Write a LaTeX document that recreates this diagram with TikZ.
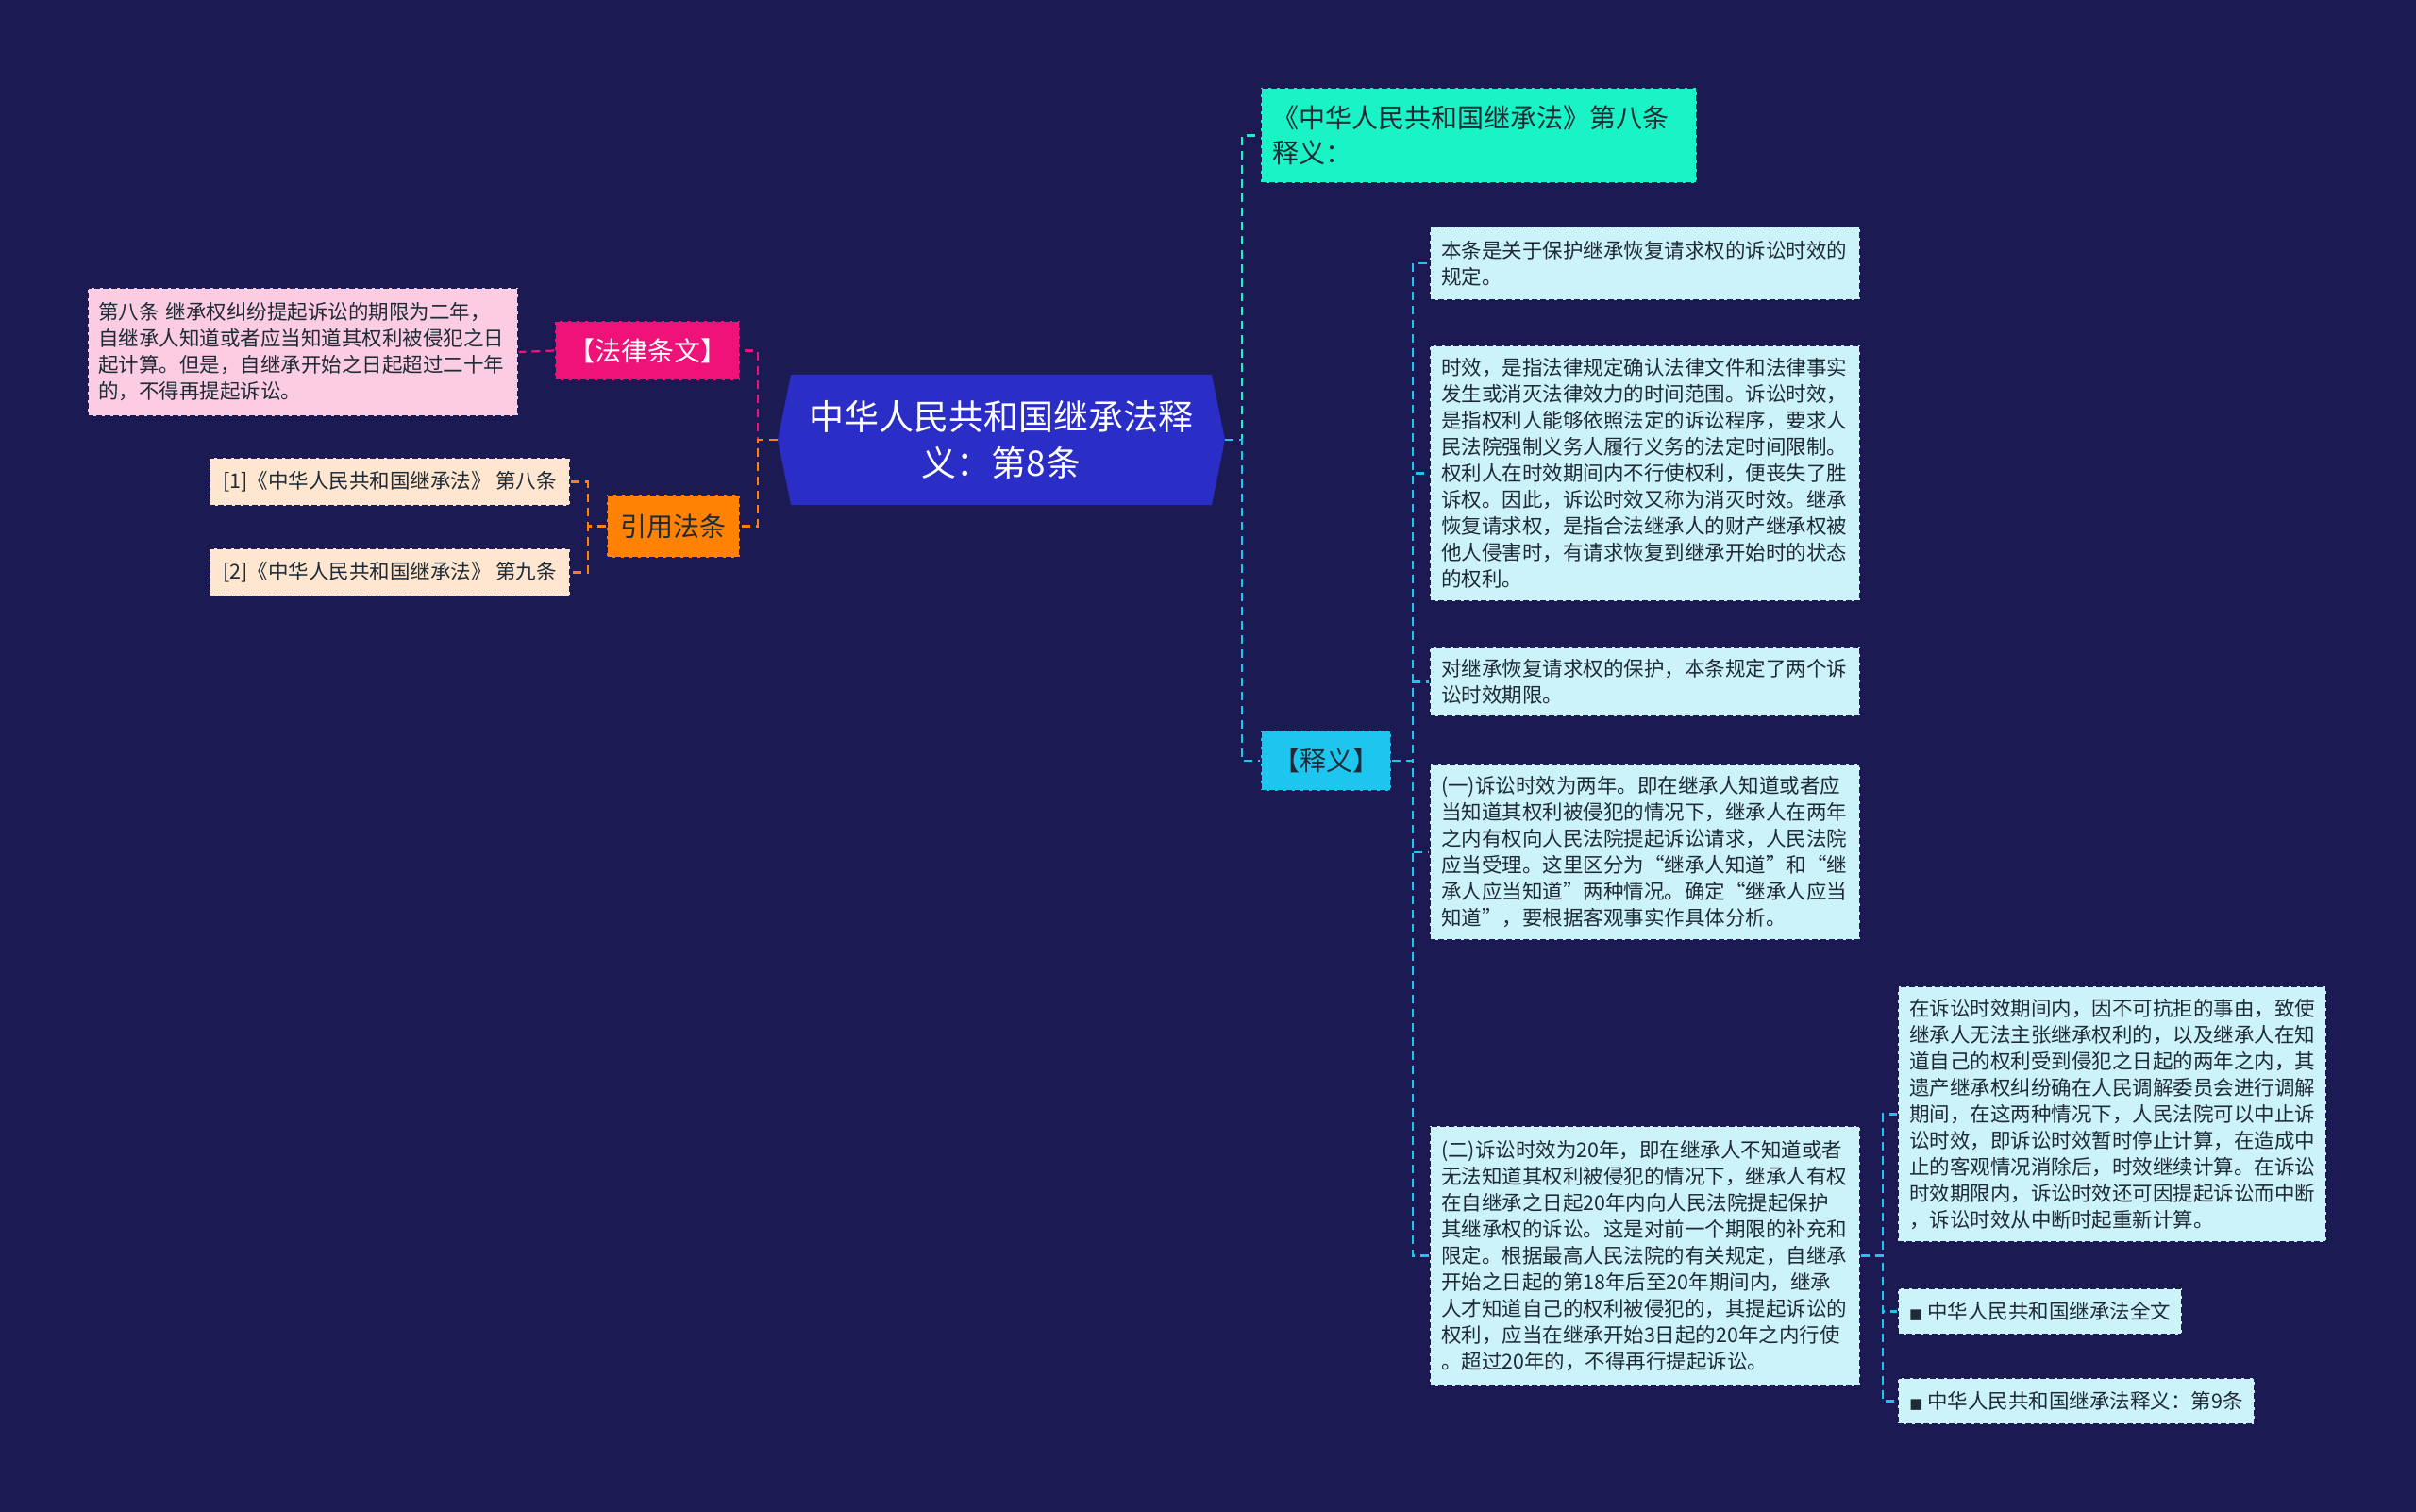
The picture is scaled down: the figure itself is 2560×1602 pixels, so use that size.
\documentclass[tikz,border=0pt]{standalone}
\usepackage{fontspec}
\setmainfont{Noto Sans CJK SC}
\newfontfamily\symfont{DejaVu Sans}
\usetikzlibrary{shapes.symbols}
\definecolor{bgc}{HTML}{1B1A52}
\definecolor{rootc}{HTML}{2A2DC6}
\definecolor{aquac}{HTML}{1AF3C5}
\definecolor{cyanc}{HTML}{1CC6EE}
\definecolor{notec}{HTML}{CDF3FA}
\definecolor{magc}{HTML}{EE1279}
\definecolor{pinkc}{HTML}{FCCCE2}
\definecolor{orangec}{HTML}{FF8205}
\definecolor{beigec}{HTML}{FEE6D0}
\definecolor{inkc}{HTML}{1E2B36}
\newcommand{\rootfont}{\fontsize{37}{49}\selectfont}
\newcommand{\midfont}{\fontsize{28}{37}\selectfont}
\newcommand{\leaffont}{\fontsize{21.5}{28}\selectfont}
\newcommand{\sqmark}{{\symfont\fontsize{15}{15}\selectfont ■}}

\begin{document}
\begin{tikzpicture}[x=1pt, y=-1pt,
    box/.style={draw=bgc, line width=1.5pt, dash pattern=on 6pt off 3pt, inner sep=0pt, text=inkc},
    note/.style={box, fill=notec, font=\leaffont, align=left, text width=432pt, inner xsep=12pt},
    tag/.style={box, fill=notec, font=\leaffont, minimum height=49pt, align=center},
    link/.style={line width=2.2pt, dash pattern=on 9pt off 6pt}]
    \fill[bgc] (0, 0) rectangle (2560, 1602);

    % Root
    \node (root) at (1061, 466) [signal, signal to=east and west, signal pointer angle=157, fill=rootc, minimum width=474pt, minimum height=138pt, inner sep=0pt, text=white, font=\rootfont, align=center] {中华人民共和国继承法释\\义：第8条};

    % Right side
    \node (sec8) at (1567, 143.5) [box, fill=aquac, font=\midfont, align=left, text width=438pt, inner xsep=12pt, minimum height=101pt] {《中华人民共和国继承法》第八条\\释义：};
    \node (shiyi) at (1405, 806) [box, fill=cyanc, font=\midfont, minimum width=138pt, minimum height=64pt, align=center] {【释义】};

    \node (n1) at (1743, 279) [note, minimum height=78pt] {本条是关于保护继承恢复请求权的诉讼时效的\\规定。};
    \node (n2) at (1743, 501.5) [note, minimum height=271pt] {时效，是指法律规定确认法律文件和法律事实\\发生或消灭法律效力的时间范围。诉讼时效，\\是指权利人能够依照法定的诉讼程序，要求人\\民法院强制义务人履行义务的法定时间限制。\\权利人在时效期间内不行使权利，便丧失了胜\\诉权。因此，诉讼时效又称为消灭时效。继承\\恢复请求权，是指合法继承人的财产继承权被\\他人侵害时，有请求恢复到继承开始时的状态\\的权利。};
    \node (n3) at (1743, 722.5) [note, minimum height=73pt] {对继承恢复请求权的保护，本条规定了两个诉\\讼时效期限。};
    \node (n4) at (1743, 903) [note, minimum height=186pt] {(一)诉讼时效为两年。即在继承人知道或者应\\当知道其权利被侵犯的情况下，继承人在两年\\之内有权向人民法院提起诉讼请求，人民法院\\应当受理。这里区分为“继承人知道”和“继\\承人应当知道”两种情况。确定“继承人应当\\知道”，要根据客观事实作具体分析。};
    \node (n5) at (1743, 1330.5) [note, minimum height=275pt] {(二)诉讼时效为20年，即在继承人不知道或者\\无法知道其权利被侵犯的情况下，继承人有权\\在自继承之日起20年内向人民法院提起保护\\其继承权的诉讼。这是对前一个期限的补充和\\限定。根据最高人民法院的有关规定，自继承\\开始之日起的第18年后至20年期间内，继承\\人才知道自己的权利被侵犯的，其提起诉讼的\\权利，应当在继承开始3日起的20年之内行使\\。超过20年的，不得再行提起诉讼。};

    \node (n6) at (2238, 1180.5) [note, text width=430pt, minimum height=271pt] {在诉讼时效期间内，因不可抗拒的事由，致使\\继承人无法主张继承权利的，以及继承人在知\\道自己的权利受到侵犯之日起的两年之内，其\\遗产继承权纠纷确在人民调解委员会进行调解\\期间，在这两种情况下，人民法院可以中止诉\\讼时效，即诉讼时效暂时停止计算，在造成中\\止的客观情况消除后，时效继续计算。在诉讼\\时效期限内，诉讼时效还可因提起诉讼而中断\\，诉讼时效从中断时起重新计算。};
    \node (n7) at (2161.5, 1389.5) [tag, minimum width=301pt] {\sqmark\ 中华人民共和国继承法全文};
    \node (n8) at (2200, 1484.5) [tag, minimum width=378pt] {\sqmark\ 中华人民共和国继承法释义：第9条};

    \draw[link, aquac] (root.east) -- ++(18, 0) |- (sec8.west);
    \draw[link, cyanc] (root.east) -- ++(18, 0) |- (shiyi.west);
    \foreach \n in {n1, n2, n3, n4, n5}
        \draw[link, cyanc] (shiyi.east) -- ++(22, 0) |- (\n.west);
    \foreach \n in {n6, n7, n8}
        \draw[link, cyanc] (n5.east) -- ++(23, 0) |- (\n.west);

    % Left side
    \node (lawtxt) at (686, 371.5) [box, fill=magc, text=white, font=\midfont, minimum width=196pt, minimum height=63pt, align=center] {【法律条文】};
    \node (art8) at (321, 373) [box, fill=pinkc, font=\leaffont, align=left, text width=434pt, inner xsep=11pt, minimum height=136pt] {第八条 继承权纠纷提起诉讼的期限为二年，\\自继承人知道或者应当知道其权利被侵犯之日\\起计算。但是，自继承开始之日起超过二十年\\的，不得再提起诉讼。};
    \node (cite) at (713.5, 557.5) [box, fill=orangec, font=\midfont, minimum width=141pt, minimum height=67pt, align=center] {引用法条};
    \node (ref1) at (413, 510.5) [box, fill=beigec, font=\leaffont, minimum width=382pt, minimum height=51pt, align=center] {[1]《中华人民共和国继承法》 第八条};
    \node (ref2) at (413, 606.5) [box, fill=beigec, font=\leaffont, minimum width=382pt, minimum height=51pt, align=center] {[2]《中华人民共和国继承法》 第九条};

    \draw[link, magc] (root.west) -- ++(-21, 0) |- (lawtxt.east);
    \draw[link, orangec] (root.west) -- ++(-21, 0) |- (cite.east);
    \draw[link, magc] (lawtxt.west) -- (art8.east);
    \foreach \n in {ref1, ref2}
        \draw[link, orangec] (cite.west) -- ++(-19, 0) |- (\n.east);
\end{tikzpicture}
\end{document}
